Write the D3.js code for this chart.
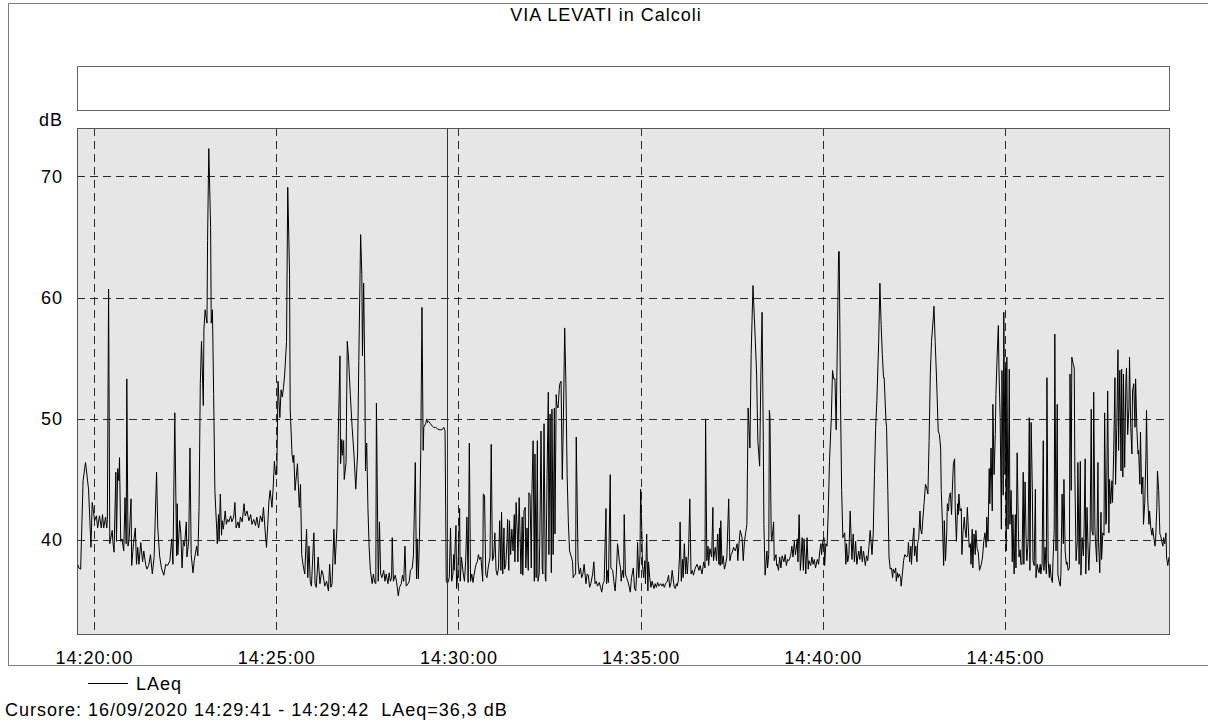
<!DOCTYPE html>
<html><head><meta charset="utf-8">
<script src="https://cdn.jsdelivr.net/npm/d3@7/dist/d3.min.js"></script>
<style>
html,body{margin:0;padding:0;background:#fff;}
svg{display:block;font-family:"Liberation Sans",Arial,sans-serif;}
svg text{letter-spacing:1px;white-space:pre;}
</style></head><body>
<svg id="chart" width="1208" height="725"></svg>
<script>
// ---- data ----
const title = "VIA LEVATI in Calcoli";
const seriesName = "LAeq";
const yUnit = "dB";
const cursorText = "Cursore: 16/09/2020 14:29:41 - 14:29:42  LAeq=36,3 dB";
const cursorSecond = 581;           // 14:29:41, seconds after 14:20:00
const domainSeconds = [-28, 1770];  // 14:19:32 .. 14:49:30
const yDomain = [32.25, 74];
const yTicks = [40, 50, 60, 70];
const xTickLabels = ["14:20:00","14:25:00","14:30:00","14:35:00","14:40:00","14:45:00"];

// seconds after 14:20:00
const seconds = [
-28,-25,-22,-18,-14,-9,-5,-3,-2,1,4,6,9,12,14,16,19,21,22,24,26,30,31,33,36,37,39,41,42,44,46,49,51,53,54,56,58,61,62,65,68,70,72,74,77,80,82,85,87,90,93,96,99,103,105,108,111,115,118,121,125,128,130,133,136,
137,138,141,143,145,147,149,152,153,156,158,160,163,165,169,171,173,175,177,180,181,183,186,187,189,192,193,195,197,199,202,203,205,206,208,210,211,213,216,218,220,222,225,227,230,232,234,237,239,241,244,247,249,252,255,258,260,263,266,268,271,274,277,279,282,284,286,288,290,293,295,297,299,
301,303,306,308,310,312,314,317,319,322,323,326,328,329,331,333,335,338,340,342,344,347,350,352,354,356,358,362,364,366,369,372,375,377,380,383,386,388,390,392,395,397,400,402,405,406,408,409,411,412,415,417,419,422,425,428,431,434,436,439,441,442,444,446,447,449,451,453,455,458,460,462,464,465,
468,469,470,472,474,477,479,481,484,486,488,490,491,493,496,498,501,503,506,508,510,512,514,517,519,521,524,526,529,531,532,534,536,538,540,542,543,546,548,549,551,554,557,559,562,565,568,570,573,576,578,580,582,585,587,589,591,592,593,596,597,599,602,603,605,608,610,612,614,616,618,620,622,624,626,629,
631,633,635,637,640,641,643,645,647,649,652,654,656,658,660,662,664,666,668,670,671,673,675,676,678,680,681,683,684,686,688,690,692,693,695,697,698,700,702,703,705,706,708,710,711,713,715,716,718,720,721,723,725,726,728,730,731,733,734,736,738,739,741,743,744,746,748,749,751,753,754,756,758,759,761,762,764,766,767,769,771,773,775,777,779,781,783,786,788,789,791,793,794,
797,799,801,803,805,807,810,812,814,816,818,821,823,825,827,829,832,834,836,838,840,843,844,846,847,850,851,854,856,858,860,862,863,865,867,868,870,872,873,875,877,879,881,883,885,888,890,892,894,895,897,899,900,902,903,905,907,908,910,912,913,915,917,919,922,924,926,928,930,933,935,937,939,941,944,946,948,950,952,955,957,959,
960,962,964,965,967,969,970,972,974,975,977,979,981,983,985,987,990,993,996,998,1001,1004,1006,1007,1009,1011,1012,1014,1017,1019,1020,1023,1025,1027,1029,1030,1031,1032,1034,1036,1038,1040,1042,1045,1047,1049,1051,1053,1056,1059,1060,1062,1064,1067,1069,1071,1073,1075,1077,1080,1082,1085,1088,1091,1093,1096,1098,1100,1102,1103,1105,1108,1109,1111,1112,1113,1115,1116,1119,1120,1123,1124,
1125,1127,1129,1131,1133,1136,1138,1140,1142,1144,1147,1149,1151,1153,1155,1158,1159,1161,1163,1164,1166,1168,1169,1171,1172,1174,1176,1177,1180,1182,1184,1186,1188,1191,1193,1195,1197,1198,1200,1202,1203,1205,1207,1209,1211,1214,1216,1218,1220,1222,1223,1226,1227,1229,1231,1233,1236,1238,1239,1241,1243,1245,1248,1250,1252,1254,1256,1259,1261,1263,1265,1267,1270,1272,1274,1276,1278,1281,1283,1285,1287,
1289,1292,1294,1296,1298,1300,1301,1304,1305,1307,1309,1311,1313,1315,1316,1318,1320,1321,1323,1324,1326,1328,1329,1331,1333,1335,1338,1340,1341,1343,1345,1346,1348,1350,1351,1353,1355,1356,1358,1360,1361,1363,1365,1367,1369,1371,1373,1375,1377,1379,1382,1383,1385,1387,1388,1390,1392,1394,1395,1397,1399,1400,1402,1404,1405,1407,1408,1410,1412,1413,1415,1417,1418,1420,1422,1423,1424,1426,1428,1429,1431,1433,1434,1436,1438,1439,1441,1443,1444,1446,1447,1449,1451,1452,
1454,1456,1458,1461,1463,1465,1467,1469,1470,1472,1474,1475,1477,1479,1480,1482,1484,1485,1487,1489,1490,1492,1494,1495,1497,1498,1500,1501,1502,1503,1505,1507,1508,1510,1512,1513,1515,1517,1518,1520,1522,1523,1525,1526,1528,1530,1531,1533,1535,1536,1538,1540,1541,1543,1545,1546,1548,1550,1551,1553,1554,1556,1558,1559,1561,1563,1564,1566,1568,1569,1571,1573,1574,1576,1578,1579,1581,1582,1584,1586,1587,1589,1591,1592,1594,1596,1597,1599,1601,1602,1604,1606,1607,1609,1610,1612,1614,1615,1617,
1619,1620,1622,1624,1625,1627,1629,1630,1632,1633,1635,1637,1638,1640,1642,1643,1645,1646,1648,1649,1651,1653,1654,1656,1658,1659,1661,1663,1664,1666,1667,1669,1671,1672,1674,1676,1677,1679,1681,1682,1684,1686,1687,1689,1691,1692,1694,1695,1697,1699,1700,1702,1704,1705,1707,1709,1710,1712,1714,1715,1717,1719,1720,1722,1723,1725,1727,1728,1730,1732,1733,1735,1737,1738,1740,1742,1743,1745,1747,1748,1750,1751,1753,1755,1756,1758,1760,1761,1763,1765,1766,1768,1770
];
const laeq = [
38.2,37.7,37.6,44.9,46.4,44.2,39.4,43.1,42.8,41.6,42.0,41.0,42.0,41.0,42.1,41.0,41.9,41.0,41.7,60.7,39.7,40.8,39.9,39.0,45.6,39.9,45.9,44.9,46.8,39.9,40.1,39.1,43.5,39.7,53.3,39.5,40.2,43.4,37.9,39.7,41.0,38.0,39.4,38.0,39.8,38.2,39.1,38.0,37.6,37.9,38.8,37.2,38.6,45.6,41.0,38.7,37.7,37.1,38.0,37.9,38.3,40.1,38.0,50.5,38.7,
43.0,38.8,41.6,40.5,37.7,39.9,39.5,41.5,38.6,39.9,47.6,38.8,37.3,38.3,39.5,38.7,42.7,52.9,56.4,51.1,57.4,59.0,57.9,64.7,72.3,65.8,57.9,59.0,52.0,44.1,40.9,39.7,42.1,39.9,43.8,40.4,41.6,40.9,42.4,41.3,41.7,41.5,42.0,41.5,41.9,43.1,41.0,41.5,41.0,41.9,41.5,43.0,42.0,42.4,41.6,42.1,41.3,41.7,41.2,41.9,41.0,42.0,41.5,42.7,40.6,39.4,41.2,43.2,44.1,42.7,44.3,46.5,45.4,
45.4,53.1,50.1,52.4,51.8,52.6,53.7,56.4,69.1,61.9,50.9,47.1,46.4,47.0,44.1,45.2,46.3,42.7,44.6,38.8,38.0,37.2,40.9,36.9,39.5,36.6,36.2,40.6,36.4,36.1,38.6,36.4,37.5,37.2,36.2,36.6,35.8,38.0,36.1,36.4,40.9,38.0,41.0,48.2,55.2,46.3,48.3,47.0,48.2,45.0,46.4,56.4,55.1,52.0,49.3,47.1,44.2,47.1,54.8,65.2,61.9,55.2,61.2,53.1,45.7,48.0,42.7,39.4,37.5,36.4,37.2,36.5,36.4,51.3,
36.6,38.6,41.5,37.2,36.9,37.5,36.6,37.2,36.4,37.3,36.6,36.9,40.2,36.6,37.1,36.6,35.4,36.1,36.4,37.1,36.6,39.5,36.2,36.4,36.6,37.5,37.7,38.8,46.4,36.8,40.1,36.8,40.5,47.4,59.2,47.4,49.3,49.6,50.0,49.7,49.8,49.6,49.4,49.3,49.3,49.2,49.1,49.1,49.1,49.3,49.0,36.6,36.4,36.9,41.0,36.6,37.2,38.8,37.5,41.2,36.0,37.2,42.6,36.6,38.6,37.2,36.6,38.3,41.9,36.5,48.0,36.6,37.2,36.5,37.2,38.0,
38.2,38.8,38.4,38.6,36.6,43.8,43.7,37.2,36.9,37.7,38.6,47.9,38.3,38.6,40.6,37.5,37.1,37.7,41.6,37.5,42.3,37.2,41.0,37.6,38.0,39.9,41.7,37.5,41.6,38.8,40.9,39.1,42.1,38.2,43.1,40.5,38.2,43.5,39.4,37.2,41.9,37.1,42.4,42.7,37.7,41.0,37.5,43.9,43.7,37.7,43.8,48.2,36.6,47.1,36.9,48.2,36.6,37.2,39.9,49.0,37.7,37.2,49.6,36.9,36.6,45.4,52.2,38.8,50.4,37.3,50.8,38.8,50.9,40.5,52.0,51.2,50.9,52.4,52.9,53.1,45.0,50.4,57.5,52.9,45.4,41.5,39.1,38.6,38.2,36.9,37.1,37.2,48.5,
38.2,37.2,37.7,36.9,37.2,38.0,36.4,37.2,37.1,36.1,36.4,37.2,38.2,36.4,36.6,36.2,36.5,36.1,35.7,36.4,36.6,42.6,36.4,37.5,36.5,45.4,37.7,37.5,36.6,35.8,37.2,39.7,39.3,38.2,37.7,36.6,37.5,36.9,42.1,37.2,36.9,36.6,36.2,35.7,36.9,37.7,36.0,35.8,37.7,39.8,36.9,38.8,44.2,40.8,38.0,36.9,38.3,36.4,40.5,35.8,38.2,36.9,36.1,36.6,36.0,36.4,36.1,36.5,36.2,36.4,36.2,36.4,36.1,36.4,36.6,37.1,36.1,36.5,37.5,36.2,36.0,36.4,
36.2,36.6,38.6,41.5,36.6,38.4,36.9,39.7,37.2,38.6,37.2,39.1,43.4,37.2,37.5,37.1,37.7,38.0,37.5,37.9,37.2,38.2,37.7,50.0,38.3,39.5,37.9,39.3,38.6,42.7,38.3,39.4,38.3,40.5,38.0,41.0,37.9,41.6,38.0,38.7,37.6,38.0,38.6,43.4,38.3,38.8,39.0,39.4,39.1,39.7,38.3,39.7,40.8,40.2,38.3,39.9,40.6,41.3,50.9,47.6,55.3,61.0,57.5,53.7,48.2,46.1,53.7,58.8,48.2,41.3,37.1,39.1,37.7,38.8,50.7,50.1,40.5,39.9,41.5,38.3,38.8,37.9,
38.0,37.5,38.6,37.7,38.7,38.2,38.8,37.9,38.4,38.3,38.7,39.5,38.6,39.9,38.8,40.1,38.2,42.1,37.5,38.2,40.2,37.5,40.1,38.3,37.2,40.2,37.6,38.3,37.9,38.6,38.0,38.4,37.7,38.4,38.0,39.1,39.7,38.8,39.9,40.2,37.9,39.7,39.5,42.4,46.5,50.1,54.0,53.3,53.3,49.1,53.1,63.8,63.8,52.0,44.1,40.2,40.6,38.0,39.7,38.2,38.8,42.4,38.4,40.5,38.2,39.9,38.0,39.1,38.4,39.5,38.2,39.1,37.9,38.7,38.3,39.5,40.8,38.8,40.5,45.4,49.3,
51.5,56.4,61.2,57.8,55.3,53.4,53.4,49.8,49.3,44.1,38.6,37.6,37.7,36.9,37.6,37.3,37.7,36.6,37.3,36.9,37.2,36.9,36.2,37.2,38.3,38.8,38.6,38.8,39.8,38.2,39.5,38.0,39.9,41.0,38.7,39.5,38.2,39.7,40.2,42.4,40.9,40.5,41.9,43.2,44.6,44.3,43.8,48.2,53.7,56.4,58.4,59.3,56.4,53.7,52.2,49.0,48.7,47.6,44.1,41.3,37.9,41.6,38.3,40.5,43.0,42.4,43.5,43.9,42.1,43.8,46.3,46.7,42.7,39.9,43.0,42.1,43.8,42.4,42.6,38.8,40.8,41.9,41.0,40.2,42.7,41.6,39.4,39.7,38.0,40.9,37.7,40.5,38.8,40.8,
39.3,39.0,37.5,38.0,38.6,39.9,40.6,39.4,41.9,39.9,45.9,43.0,47.6,42.4,51.2,45.4,48.7,52.0,55.1,57.7,54.2,50.1,40.9,54.0,43.7,58.8,45.4,54.2,39.1,55.1,40.9,54.1,41.3,44.1,38.2,42.1,37.2,42.1,37.7,47.2,40.8,38.6,39.2,38.0,38.0,45.6,38.0,44.8,39.4,38.3,39.9,50.1,37.5,49.7,44.1,38.3,37.9,44.2,36.9,38.0,37.7,37.3,38.0,37.2,38.0,48.2,37.5,39.4,37.2,53.4,38.3,36.9,38.0,36.9,36.5,38.3,40.8,57.0,39.1,51.2,37.2,36.6,36.2,37.2,43.8,39.7,45.0,39.1,38.0,38.2,37.5,37.7,53.7,44.1,55.1,54.6,54.2,45.4,38.3,
39.9,46.4,38.0,46.5,37.1,40.2,38.7,40.5,46.7,37.2,42.7,38.8,37.5,39.9,50.8,40.8,40.4,52.2,41.0,39.9,38.2,46.4,39.8,37.3,42.3,38.4,40.6,40.4,50.5,41.3,41.6,52.3,40.6,45.0,43.0,44.9,43.1,47.4,53.4,44.6,49.3,55.7,47.4,54.0,45.7,54.1,45.2,53.7,46.0,53.1,54.2,48.7,50.9,55.1,49.3,47.1,52.3,52.9,49.3,53.3,49.3,47.1,47.4,44.6,48.9,43.8,45.2,41.3,43.0,46.8,50.7,43.4,41.3,42.4,41.0,40.4,41.0,40.2,39.5,40.1,42.7,45.7,44.1,40.5,40.4,39.9,39.5,40.2,39.7,40.6,38.6,37.9,38.6
];

// ---- drawing ----
const FS = 18;
const svg = d3.select("#chart");
const plot = {left: 77, right: 1169, top: 128, bottom: 634};
const base = new Date(2020, 8, 16, 14, 20, 0);
const toDate = s => new Date(base.getTime() + s * 1000);
const data = seconds.map((s, i) => ({t: toDate(s), v: laeq[i]}));

const x = d3.scaleTime().domain(domainSeconds.map(toDate)).range([plot.left, plot.right]);
const y = d3.scaleLinear().domain(yDomain).range([plot.bottom, plot.top]);
const fmt = d3.timeFormat("%H:%M:%S");
const xTicks = xTickLabels.map(lbl => {
  const [h, m, s] = lbl.split(":").map(Number);
  return new Date(2020, 8, 16, h, m, s);
});

// outer frame
svg.append("rect").attr("x", 8.5).attr("y", 3.5).attr("width", 1210).attr("height", 662)
  .attr("fill", "none").attr("stroke", "#808080").attr("stroke-width", 1);

// title
svg.append("text").attr("x", 606).attr("y", 21).attr("text-anchor", "middle")
  .attr("font-size", FS).attr("fill", "#000").text(title);

// empty header box
svg.append("rect").attr("x", 77.5).attr("y", 66.5).attr("width", plot.right - plot.left).attr("height", 44)
  .attr("fill", "#fff").attr("stroke", "#666").attr("stroke-width", 1);

// plot background
svg.append("rect").attr("x", plot.left + 0.5).attr("y", plot.top + 0.5)
  .attr("width", plot.right - plot.left).attr("height", plot.bottom - plot.top)
  .attr("fill", "#e6e6e6").attr("stroke", "none");

svg.append("defs").append("clipPath").attr("id", "clip")
  .append("rect").attr("x", plot.left).attr("y", plot.top)
  .attr("width", plot.right - plot.left).attr("height", plot.bottom - plot.top);

// grid
const grid = svg.append("g").attr("stroke", "#2a2a2a").attr("stroke-width", 1).attr("stroke-dasharray", "8,5");
grid.selectAll("line.h").data(yTicks).join("line").attr("class", "h")
  .attr("x1", plot.left).attr("x2", plot.right)
  .attr("y1", d => Math.round(y(d)) + 0.5).attr("y2", d => Math.round(y(d)) + 0.5);
grid.selectAll("line.v").data(xTicks).join("line").attr("class", "v")
  .attr("y1", plot.top).attr("y2", plot.bottom)
  .attr("x1", d => Math.round(x(d)) + 0.5).attr("x2", d => Math.round(x(d)) + 0.5);

// axes
const yAxis = d3.axisLeft(y).tickValues(yTicks).tickSize(0).tickPadding(14).tickFormat(d3.format("d"));
const gy = svg.append("g").attr("transform", `translate(${plot.left},0)`).call(yAxis);
gy.select(".domain").remove();
gy.selectAll("text").attr("font-size", FS).attr("font-family", '"Liberation Sans",Arial,sans-serif').attr("fill", "#000");

const xAxis = d3.axisBottom(x).tickValues(xTicks).tickSize(0).tickPadding(17).tickFormat(fmt);
const gx = svg.append("g").attr("transform", `translate(0,${plot.bottom})`).call(xAxis);
gx.select(".domain").remove();
gx.selectAll("text").attr("font-size", FS).attr("font-family", '"Liberation Sans",Arial,sans-serif').attr("fill", "#000");

// small inner tick marks on top edge
svg.append("g").selectAll("line").data(xTicks).join("line")
  .attr("x1", d => Math.round(x(d)) + 0.5).attr("x2", d => Math.round(x(d)) + 0.5)
  .attr("y1", plot.top).attr("y2", plot.top + 5).attr("stroke", "#333");

// y unit
svg.append("text").attr("x", 39).attr("y", 126).attr("font-size", FS).attr("fill", "#000").text(yUnit);

// series line
const line = d3.line().x(d => x(d.t)).y(d => y(d.v));
svg.append("path").datum(data).attr("clip-path", "url(#clip)")
  .attr("fill", "none").attr("stroke", "#000").attr("stroke-width", 1).attr("d", line);

// cursor
const cx = Math.round(x(toDate(cursorSecond))) + 0.5;
svg.append("line").attr("x1", cx).attr("x2", cx).attr("y1", plot.top).attr("y2", plot.bottom)
  .attr("stroke", "#333").attr("stroke-width", 1);

// plot border
svg.append("rect").attr("x", plot.left + 0.5).attr("y", plot.top + 0.5)
  .attr("width", plot.right - plot.left).attr("height", plot.bottom - plot.top)
  .attr("fill", "none").attr("stroke", "#555").attr("stroke-width", 1);

// legend
svg.append("line").attr("x1", 88).attr("x2", 128).attr("y1", 683.5).attr("y2", 683.5).attr("stroke", "#000");
svg.append("text").attr("x", 136).attr("y", 690).attr("font-size", FS).attr("fill", "#000").text(seriesName);

// cursor info
svg.append("text").attr("x", 5).attr("y", 716).attr("font-size", FS).attr("fill", "#000").text(cursorText);
</script>
</body></html>
